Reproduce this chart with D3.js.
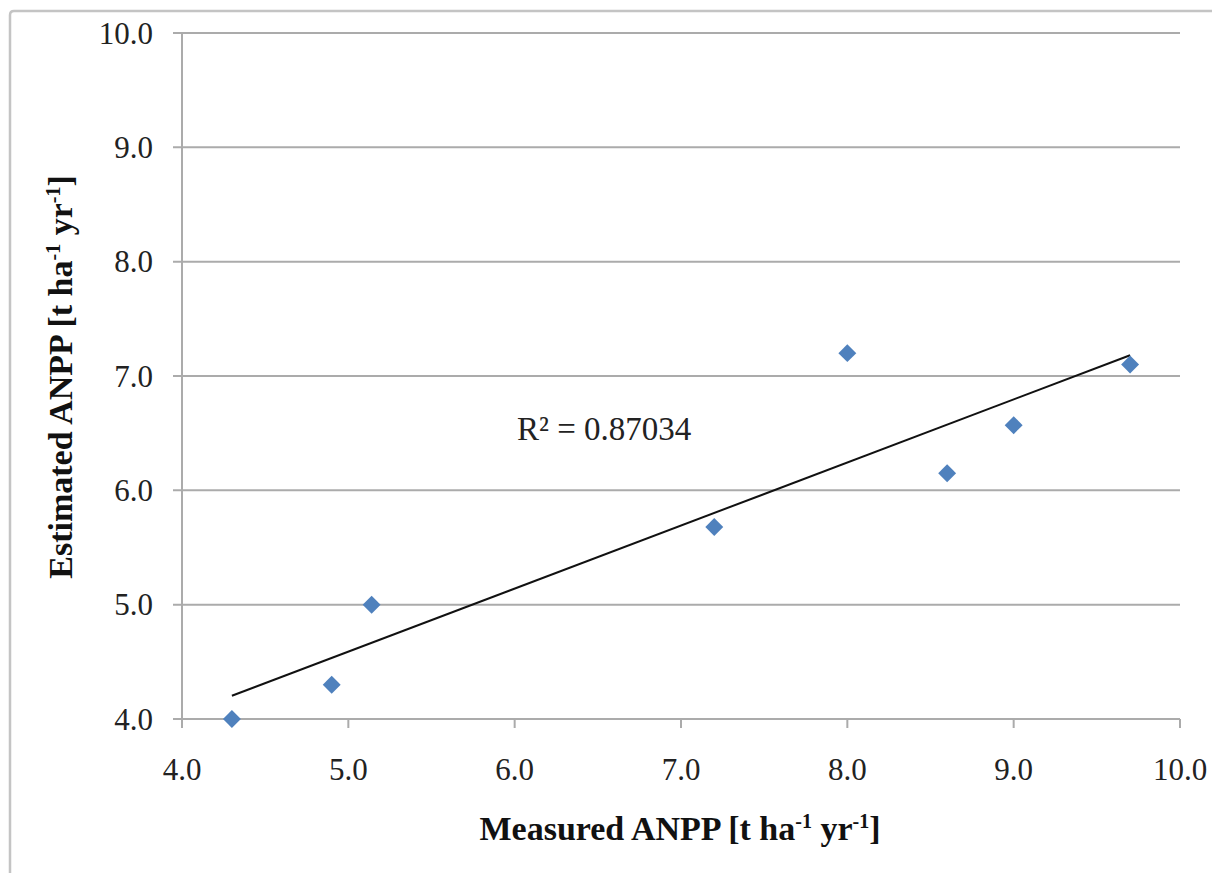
<!DOCTYPE html>
<html>
<head>
<meta charset="utf-8">
<script src="https://cdn.jsdelivr.net/npm/d3@7"></script>
<style>
  html, body { margin: 0; padding: 0; background: #ffffff; }
  svg { display: block; }
</style>
</head>
<body>
<script>
// Measured vs. estimated above-ground net primary production (t ha-1 yr-1)
const measured  = [4.3, 4.9, 5.14, 7.2, 8.0, 8.6, 9.0, 9.7];
const estimated = [4.0, 4.3, 5.0, 5.68, 7.2, 6.15, 6.57, 7.1];
const xTicks = [4, 5, 6, 7, 8, 9, 10];
const yTicks = [4, 5, 6, 7, 8, 9, 10];
const r2Label = "R\u00B2 = 0.87034";

const W = 1212, H = 873;
const svg = d3.select("body").append("svg").attr("width", W).attr("height", H);

svg.append("rect").attr("width", W).attr("height", H).attr("fill", "#fff");

// chart area frame
svg.append("path")
  .attr("d", `M10,${H + 5} L10,15 Q10,11 14,11 L${W + 5},11`)
  .attr("fill", "none").attr("stroke", "#c4c4c4").attr("stroke-width", 2.5);

const x = d3.scaleLinear().domain([4, 10]).range([182, 1180]);
const y = d3.scaleLinear().domain([4, 10]).range([719, 33]);

const serif = "'Liberation Serif', 'Times New Roman', serif";
const gridColor = "#ababab";

// horizontal gridlines with left tick stubs
svg.append("g").selectAll("line").data(yTicks.filter(d => d > 4)).join("line")
  .attr("x1", 173).attr("x2", x(10))
  .attr("y1", d => y(d)).attr("y2", d => y(d))
  .attr("stroke", gridColor).attr("stroke-width", 2);

// y axis
svg.append("line").attr("x1", x(4)).attr("x2", x(4)).attr("y1", y(10)).attr("y2", y(4))
  .attr("stroke", gridColor).attr("stroke-width", 2);
// x axis
svg.append("line").attr("x1", 173).attr("x2", x(10)).attr("y1", y(4)).attr("y2", y(4))
  .attr("stroke", gridColor).attr("stroke-width", 2);
// x tick marks
svg.append("g").selectAll("line").data(xTicks).join("line")
  .attr("x1", d => x(d)).attr("x2", d => x(d))
  .attr("y1", y(4)).attr("y2", y(4) + 9)
  .attr("stroke", gridColor).attr("stroke-width", 2);

// y tick labels
svg.append("g").selectAll("text").data(yTicks).join("text")
  .attr("x", 153).attr("y", d => y(d)).attr("dy", "0.34em")
  .attr("text-anchor", "end")
  .attr("font-family", serif).attr("font-size", 31).attr("fill", "#222")
  .text(d => d3.format(".1f")(d));

// x tick labels
svg.append("g").selectAll("text").data(xTicks).join("text")
  .attr("x", d => x(d)).attr("y", 780)
  .attr("text-anchor", "middle")
  .attr("font-family", serif).attr("font-size", 31).attr("fill", "#222")
  .text(d => d3.format(".1f")(d));

// axis titles with superscript exponents
function unitTitle(sel, label) {
  sel.append("tspan").text(label + " [t ha");
  sel.append("tspan").attr("font-size", 20).attr("dy", -12).text("-1");
  sel.append("tspan").attr("dy", 12).text(" yr");
  sel.append("tspan").attr("font-size", 20).attr("dy", -12).text("-1");
  sel.append("tspan").attr("dy", 12).text("]");
}

const xTitle = svg.append("text")
  .attr("x", 680).attr("y", 840).attr("text-anchor", "middle")
  .attr("font-family", serif).attr("font-weight", "bold").attr("font-size", 34).attr("fill", "#111");
unitTitle(xTitle, "Measured ANPP");

const yTitle = svg.append("text")
  .attr("transform", "translate(72,377) rotate(-90)").attr("text-anchor", "middle")
  .attr("font-family", serif).attr("font-weight", "bold").attr("font-size", 34).attr("fill", "#111");
unitTitle(yTitle, "Estimated ANPP");

// least-squares trendline across the measured range
const pts = measured.map((m, i) => [m, estimated[i]]);
const mx = d3.mean(measured), my = d3.mean(estimated);
const sxy = d3.sum(pts, p => (p[0] - mx) * (p[1] - my));
const sxx = d3.sum(pts, p => (p[0] - mx) ** 2);
const slope = sxy / sxx, intercept = my - slope * mx;
const [xMin, xMax] = d3.extent(measured);
svg.append("line")
  .attr("x1", x(xMin)).attr("y1", y(intercept + slope * xMin))
  .attr("x2", x(xMax)).attr("y2", y(intercept + slope * xMax))
  .attr("stroke", "#111").attr("stroke-width", 2);

// diamond markers
const diamond = d3.symbol().type(d3.symbolDiamond2).size(205);
svg.append("g").selectAll("path").data(pts).join("path")
  .attr("d", diamond)
  .attr("transform", d => `translate(${x(d[0])},${y(d[1])})`)
  .attr("fill", "#4F81BD");

// R-squared annotation
svg.append("text")
  .attr("x", 517).attr("y", 440)
  .attr("font-family", serif).attr("font-size", 33).attr("fill", "#222")
  .text(r2Label);
</script>
</body>
</html>
